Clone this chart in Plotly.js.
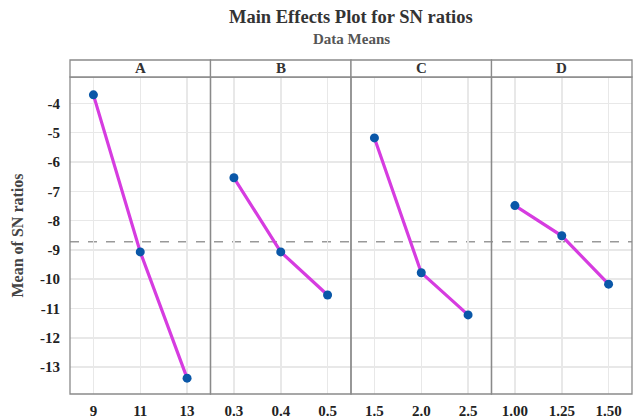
<!DOCTYPE html>
<html>
<head>
<meta charset="utf-8">
<script src="https://cdn.plot.ly/plotly-3.0.1.min.js"></script>
<style>html,body{margin:0;padding:0;background:#fff;}</style>
</head>
<body>
<div id="chart" style="width:635px;height:419px;"></div>
<script>
// Factor names (panel headers)
const factors = ['A', 'B', 'C', 'D'];
// Levels of each factor (x tick labels)
const levelsA = ['9', '11', '13'];
const levelsB = ['0.3', '0.4', '0.5'];
const levelsC = ['1.5', '2.0', '2.5'];
const levelsD = ['1.00', '1.25', '1.50'];
// Mean SN ratios for each level
const snA = [-3.71, -9.07, -13.38];
const snB = [-6.54, -9.07, -10.54];
const snC = [-5.18, -9.78, -11.22];
const snD = [-7.49, -8.52, -10.17];
// y tick labels
const yTicks = [-4, -5, -6, -7, -8, -9, -10, -11, -12, -13];

const levels = [levelsA, levelsB, levelsC, levelsD];
const values = [snA, snB, snC, snD];
const all = [].concat(snA, snB, snC, snD);
const grandMean = all.reduce((s, v) => s + v, 0) / all.length;

const serif = 'Liberation Serif';
const lineColor = '#d63ce0';
const markerColor = '#0a57a8';
const gridColor = '#e8e8e8';
const frameColor = '#8a8a8a';

const doms = [[0, 0.25], [0.25, 0.5], [0.5, 0.75], [0.75, 1]];
const plotH = 317, topM = 77;
const py = p => 1 + (topM - p) / plotH;

const traces = [];
const layout = {
  width: 635, height: 419,
  font: {family: serif, color: '#222'},
  margin: {l: 70, r: 3, t: topM, b: 25},
  paper_bgcolor: '#fff', plot_bgcolor: '#fff',
  showlegend: false,
  yaxis: {
    range: [-13.92, -3.1],
    tickvals: yTicks,
    ticktext: yTicks.map(v => '<b>' + v + '</b>'),
    showgrid: true, gridcolor: gridColor, gridwidth: 1.5,
    zeroline: false, showline: false, ticks: '', ticklabelstandoff: 9,
    tickfont: {family: serif, size: 15, color: '#222'},
    title: {text: '<b>Mean of SN ratios</b>', font: {family: serif, size: 16, color: '#444'}, standoff: 12}
  },
  shapes: [],
  annotations: [
    {xref: 'paper', yref: 'paper', x: 0.5, y: py(17), xanchor: 'center', yanchor: 'middle',
     showarrow: false, text: '<b>Main Effects Plot for SN ratios</b>',
     font: {family: serif, size: 18.5, color: '#333'}},
    {xref: 'paper', yref: 'paper', x: 0.5, y: py(39), xanchor: 'center', yanchor: 'middle',
     showarrow: false, text: '<b>Data Means</b>',
     font: {family: serif, size: 15, color: '#555'}}
  ]
};

const headerTop = 1 + 17 / plotH;
for (let i = 0; i < 4; i++) {
  const ax = i === 0 ? 'x' : 'x' + (i + 1);
  const axName = i === 0 ? 'xaxis' : 'xaxis' + (i + 1);
  traces.push({
    type: 'scatter', mode: 'lines+markers',
    x: levels[i], y: values[i],
    xaxis: ax, yaxis: 'y',
    line: {color: lineColor, width: 3.2},
    marker: {color: markerColor, size: 9},
    hoverinfo: 'x+y'
  });
  layout[axName] = {
    domain: doms[i], anchor: 'y', type: 'category',
    categoryorder: 'array', categoryarray: levels[i],
    tickvals: levels[i], ticktext: levels[i].map(s => '<b>' + s + '</b>'),
    range: [-0.5, 2.5],
    showgrid: true, gridcolor: gridColor, gridwidth: 1.5,
    zeroline: false, showline: false, ticks: '',
    ticklabelstandoff: 6,
    tickfont: {family: serif, size: 15, color: '#222'}
  };
  layout.shapes.push({
    type: 'rect', xref: 'paper', yref: 'paper',
    x0: doms[i][0], x1: doms[i][1], y0: 0, y1: 1,
    line: {color: frameColor, width: 1.3}, fillcolor: 'rgba(0,0,0,0)', layer: 'above'
  });
  layout.shapes.push({
    type: 'rect', xref: 'paper', yref: 'paper',
    x0: doms[i][0], x1: doms[i][1], y0: 1, y1: headerTop,
    line: {color: frameColor, width: 1.3}, fillcolor: '#fff', layer: 'above'
  });
  layout.annotations.push({
    xref: 'paper', yref: 'paper',
    x: (doms[i][0] + doms[i][1]) / 2, y: (1 + headerTop) / 2,
    text: '<b>' + factors[i] + '</b>', showarrow: false,
    xanchor: 'center', yanchor: 'middle',
    font: {family: serif, size: 15, color: '#333'}
  });
}
layout.shapes.push({
  type: 'line', xref: 'paper', yref: 'y',
  x0: 0, x1: 1, y0: grandMean, y1: grandMean,
  line: {color: '#999', width: 1.3, dash: 'dash'}, layer: 'below'
});

Plotly.newPlot('chart', traces, layout, {displayModeBar: false, staticPlot: true});
</script>
</body>
</html>
